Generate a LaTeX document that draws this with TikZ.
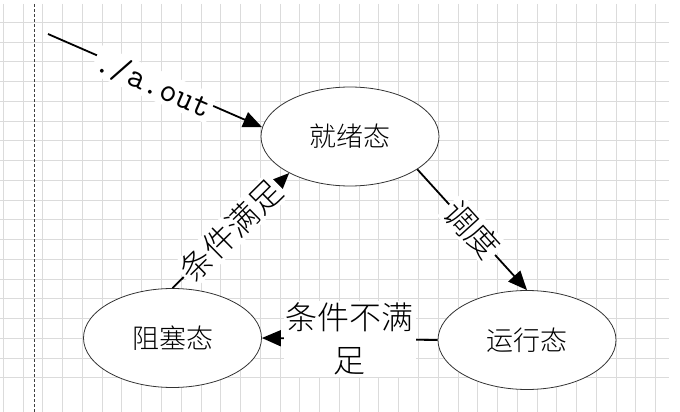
\documentclass[tikz,border=0pt]{standalone}
\usepackage{fontspec}
\newfontfamily\cjk{Noto Sans CJK SC}[UprightFont=* Light]
\usetikzlibrary{shapes.geometric,arrows.meta}
\tikzset{
  state/.style={ellipse,draw=black!80,line width=0.8pt,fill=white,minimum width=178pt,minimum height=99pt,inner sep=0pt,font=\cjk\fontsize{27}{32}\selectfont},
  conn/.style={line width=1.8pt,-{Triangle[length=19pt,width=16pt]}},
  lab/.style={fill=white,inner sep=2pt,sloped,font=\cjk\fontsize{32}{43}\selectfont},
  gridline/.style={draw=black!14,line width=0.9pt}
}
\begin{document}
\begin{tikzpicture}[x=1pt,y=-1pt]
\useasboundingbox (0,0) rectangle (680,412);
\fill[white] (0,0) rectangle (680,412);
% grid
\foreach \k in {0,...,33}{\draw[gridline] ({3.3+19.77*\k},4) -- ({3.3+19.77*\k},412);}
\foreach \k in {1,...,19}{\draw[gridline] (0,{2.6+19.75*\k}) -- (669,{2.6+19.75*\k});}
\draw[black!75,line width=0.8pt,dash pattern=on 3pt off 2pt] (34,4) -- (34,412);
% states
\node[state] (jiuxu) at (350,136.5) {就绪态};
\node[state] (zusai) at (172.5,338) {阻塞态};
\node[state] (yunxing) at (527,340) {运行态};
\coordinate (start) at (48,34);
% connectors
\draw[conn] (start) -- node[lab,font=\ttfamily\fontsize{34}{38}\selectfont,yshift=-4pt]{./a.out} (jiuxu.174);
\draw[conn] (jiuxu.-26) -- node[lab]{调度} (yunxing.north);
\draw[conn] (zusai.north) -- node[lab]{条件满足} (jiuxu.211);
\draw[conn] (yunxing.west) -- node[fill=white,inner sep=2pt,align=center,font=\cjk\fontsize{32}{43}\selectfont]{条件不满\\足} (zusai.east);
\end{tikzpicture}
\end{document}
